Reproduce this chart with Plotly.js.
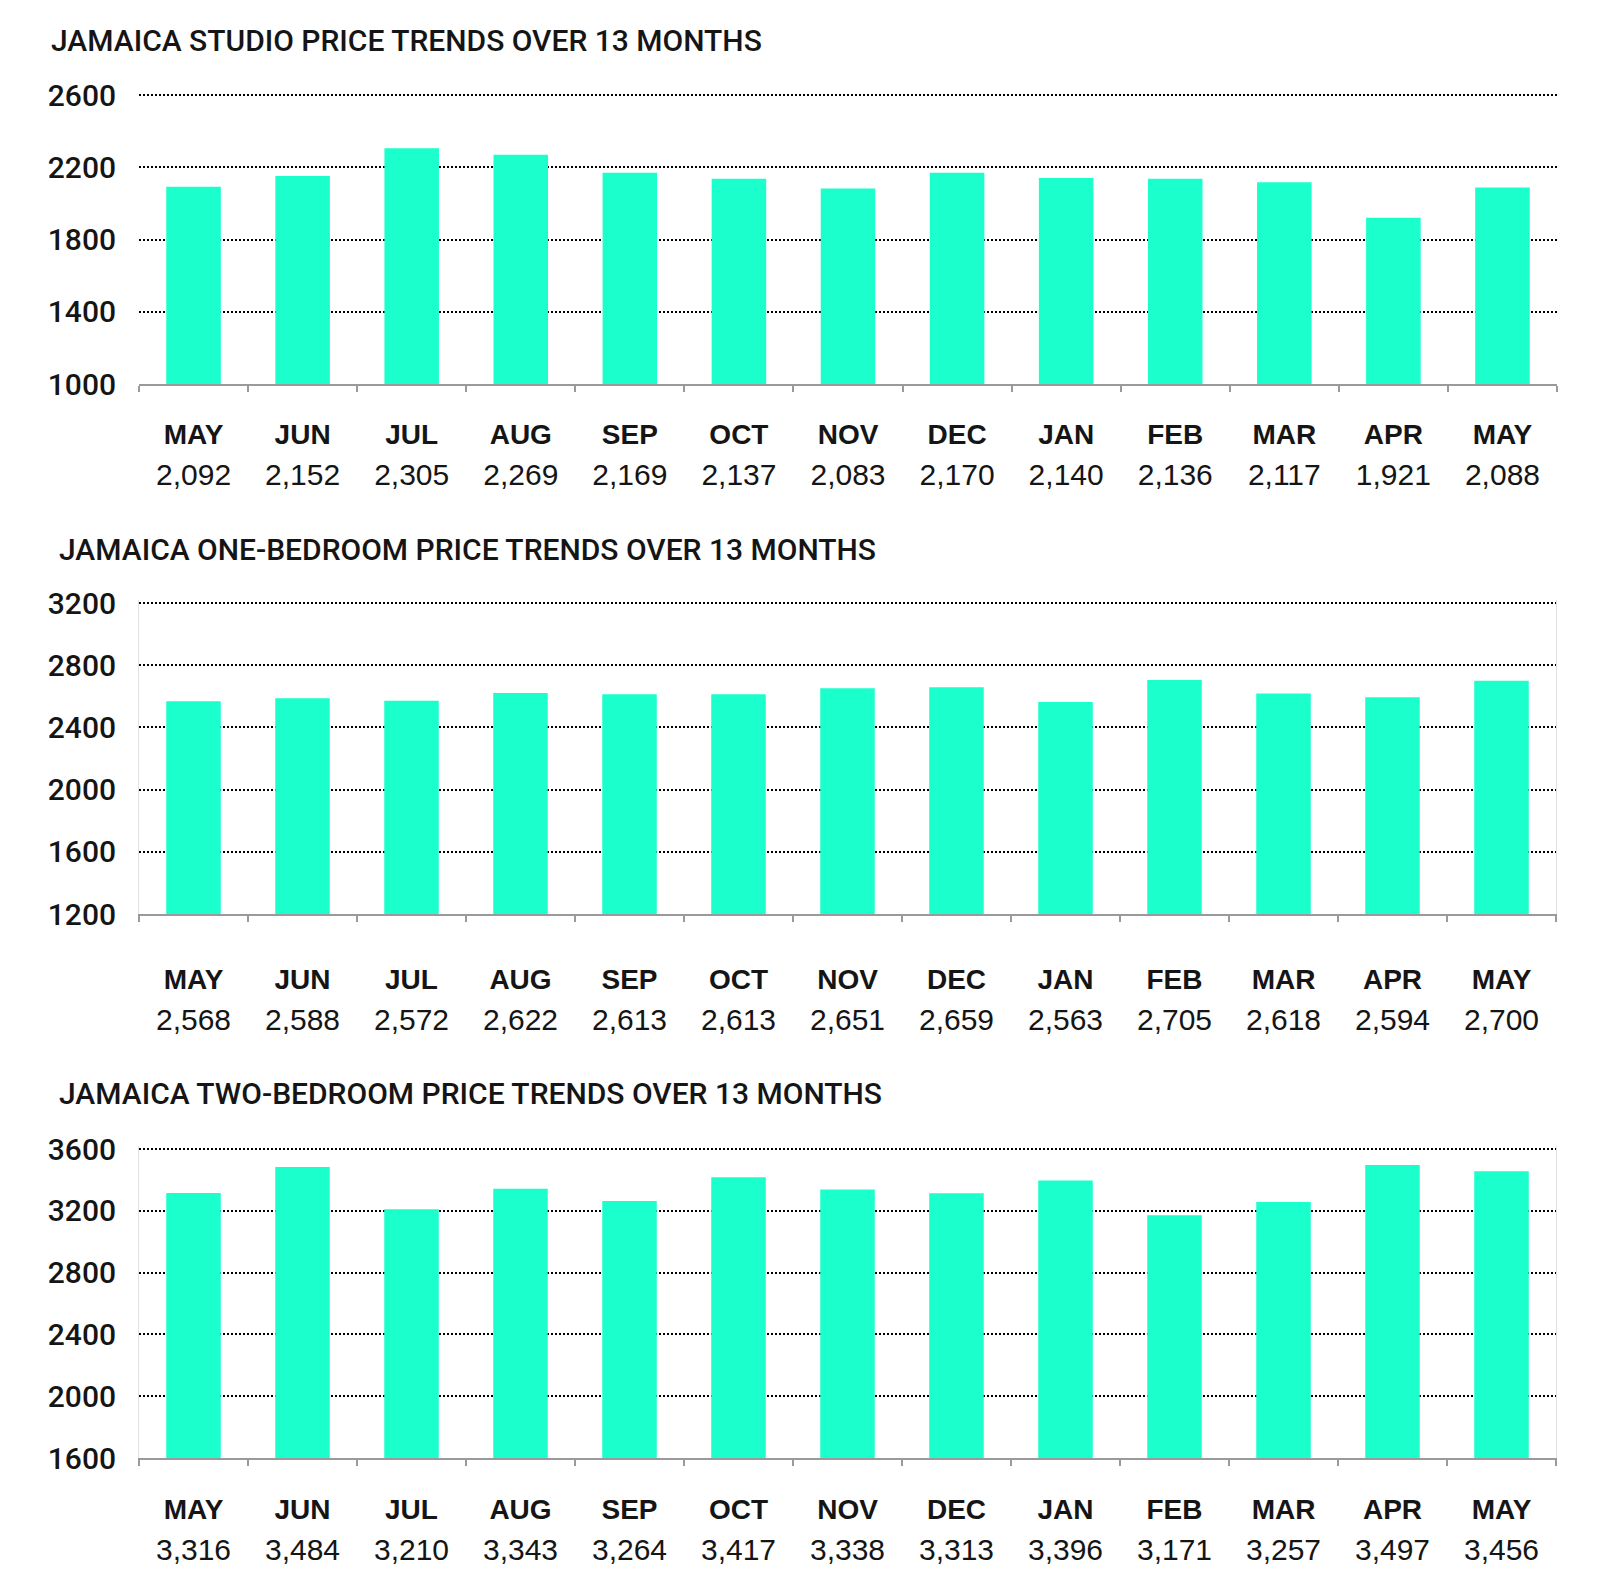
<!DOCTYPE html>
<html>
<head>
<meta charset="utf-8">
<script src="https://cdn.plot.ly/plotly-3.0.1.min.js"></script>
<style>
  html, body { margin: 0; padding: 0; background: #ffffff; }
  #chart { width: 1600px; height: 1570px; }
</style>
</head>
<body>
<div id="chart"></div>
<script>
// ---- Data ----
const months = ['MAY', 'JUN', 'JUL', 'AUG', 'SEP', 'OCT', 'NOV', 'DEC', 'JAN', 'FEB', 'MAR', 'APR', 'MAY'];
const studioPrices = [2092, 2152, 2305, 2269, 2169, 2137, 2083, 2170, 2140, 2136, 2117, 1921, 2088];
const oneBedroomPrices = [2568, 2588, 2572, 2622, 2613, 2613, 2651, 2659, 2563, 2705, 2618, 2594, 2700];
const twoBedroomPrices = [3316, 3484, 3210, 3343, 3264, 3417, 3338, 3313, 3396, 3171, 3257, 3497, 3456];

const chartTitles = [
  'JAMAICA STUDIO PRICE TRENDS OVER 13 MONTHS',
  'JAMAICA ONE-BEDROOM PRICE TRENDS OVER 13 MONTHS',
  'JAMAICA TWO-BEDROOM PRICE TRENDS OVER 13 MONTHS'
];
const studioTicks = [1000, 1400, 1800, 2200, 2600];
const oneBedroomTicks = [1200, 1600, 2000, 2400, 2800, 3200];
const twoBedroomTicks = [1600, 2000, 2400, 2800, 3200, 3600];

// ---- Styling / layout ----
const W = 1600, H = 1570;
const FONT = 'Liberation Sans, Arial, sans-serif';
const HEAD_FONT = 'Roboto, Liberation Sans, Arial, sans-serif';
const BAR_COLOR = '#1affcb';
const TEXT_COLOR = '#151515';
const TOP_PAD = 3; // px of headroom so the top gridline is drawn

function catLabels(values) {
  return months.map((m, i) =>
    '<span style="font-size:28px;font-weight:bold">' + m + '</span><br>' +
    '<span style="font-size:30px">' + values[i].toLocaleString('en-US') + '</span>');
}

const panels = [
  { values: studioPrices, ticks: studioTicks, top: 95, bottom: 384, left: 139, right: 1557, titleX: 49, titleY: 41, standoff: 21, ystandoff: 22, border: false },
  { values: oneBedroomPrices, ticks: oneBedroomTicks, top: 603, bottom: 914, left: 139, right: 1556, titleX: 57, titleY: 549, standoff: 36, ystandoff: 16, border: true },
  { values: twoBedroomPrices, ticks: twoBedroomTicks, top: 1149, bottom: 1458, left: 139, right: 1556, titleX: 57, titleY: 1093, standoff: 22, ystandoff: 16, border: true }
];

const data = [];
const layout = {
  width: W, height: H,
  margin: { l: 0, r: 0, t: 0, b: 0 },
  paper_bgcolor: '#ffffff',
  plot_bgcolor: '#ffffff',
  showlegend: false,
  bargap: 0.5,
  annotations: [],
  font: { family: FONT, color: TEXT_COLOR }
};

panels.forEach((p, k) => {
  const n = k === 0 ? '' : String(k + 1);
  const cats = catLabels(p.values);
  const lo = p.ticks[0], hi = p.ticks[p.ticks.length - 1];
  const hiPadded = hi + TOP_PAD * (hi - lo) / (p.bottom - p.top);
  data.push({
    type: 'bar',
    x: cats,
    y: p.values,
    xaxis: 'x' + n,
    yaxis: 'y' + n,
    marker: { color: BAR_COLOR, line: { width: 0 } },
    hoverinfo: 'skip'
  });
  layout['xaxis' + n] = {
    domain: [p.left / W, p.right / W],
    anchor: 'y' + n,
    type: 'category',
    tickson: 'boundaries',
    ticks: 'outside',
    ticklen: 6,
    tickwidth: 2,
    tickcolor: '#9a9a9a',
    showline: true,
    linecolor: '#9a9a9a',
    linewidth: 2,
    showgrid: false,
    zeroline: false,
    ticklabelstandoff: p.standoff,
    tickfont: { family: FONT, size: 31, color: TEXT_COLOR },
    fixedrange: true
  };
  layout['yaxis' + n] = {
    domain: [1 - p.bottom / H, 1 - (p.top - TOP_PAD) / H],
    anchor: 'x' + n,
    range: [lo, hiPadded],
    tickmode: 'array',
    tickvals: p.ticks,
    ticktext: p.ticks.map(String),
    ticks: '',
    showgrid: true,
    gridcolor: '#000000',
    gridwidth: 2,
    griddash: '2px,2px',
    zeroline: false,
    showline: p.border,
    mirror: p.border,
    linecolor: '#e2e2e2',
    linewidth: 1,
    ticklabelstandoff: p.ystandoff,
    tickfont: { family: HEAD_FONT, size: 30, color: TEXT_COLOR, weight: 500 },
    fixedrange: true
  };
  layout.annotations.push({
    text: chartTitles[k],
    xref: 'paper', yref: 'paper',
    x: p.titleX / W, y: 1 - p.titleY / H,
    xanchor: 'left', yanchor: 'middle',
    showarrow: false,
    font: { family: HEAD_FONT, size: 30, color: TEXT_COLOR, weight: 500 }
  });
});

Plotly.newPlot('chart', data, layout, { staticPlot: true, displayModeBar: false });
</script>
</body>
</html>
